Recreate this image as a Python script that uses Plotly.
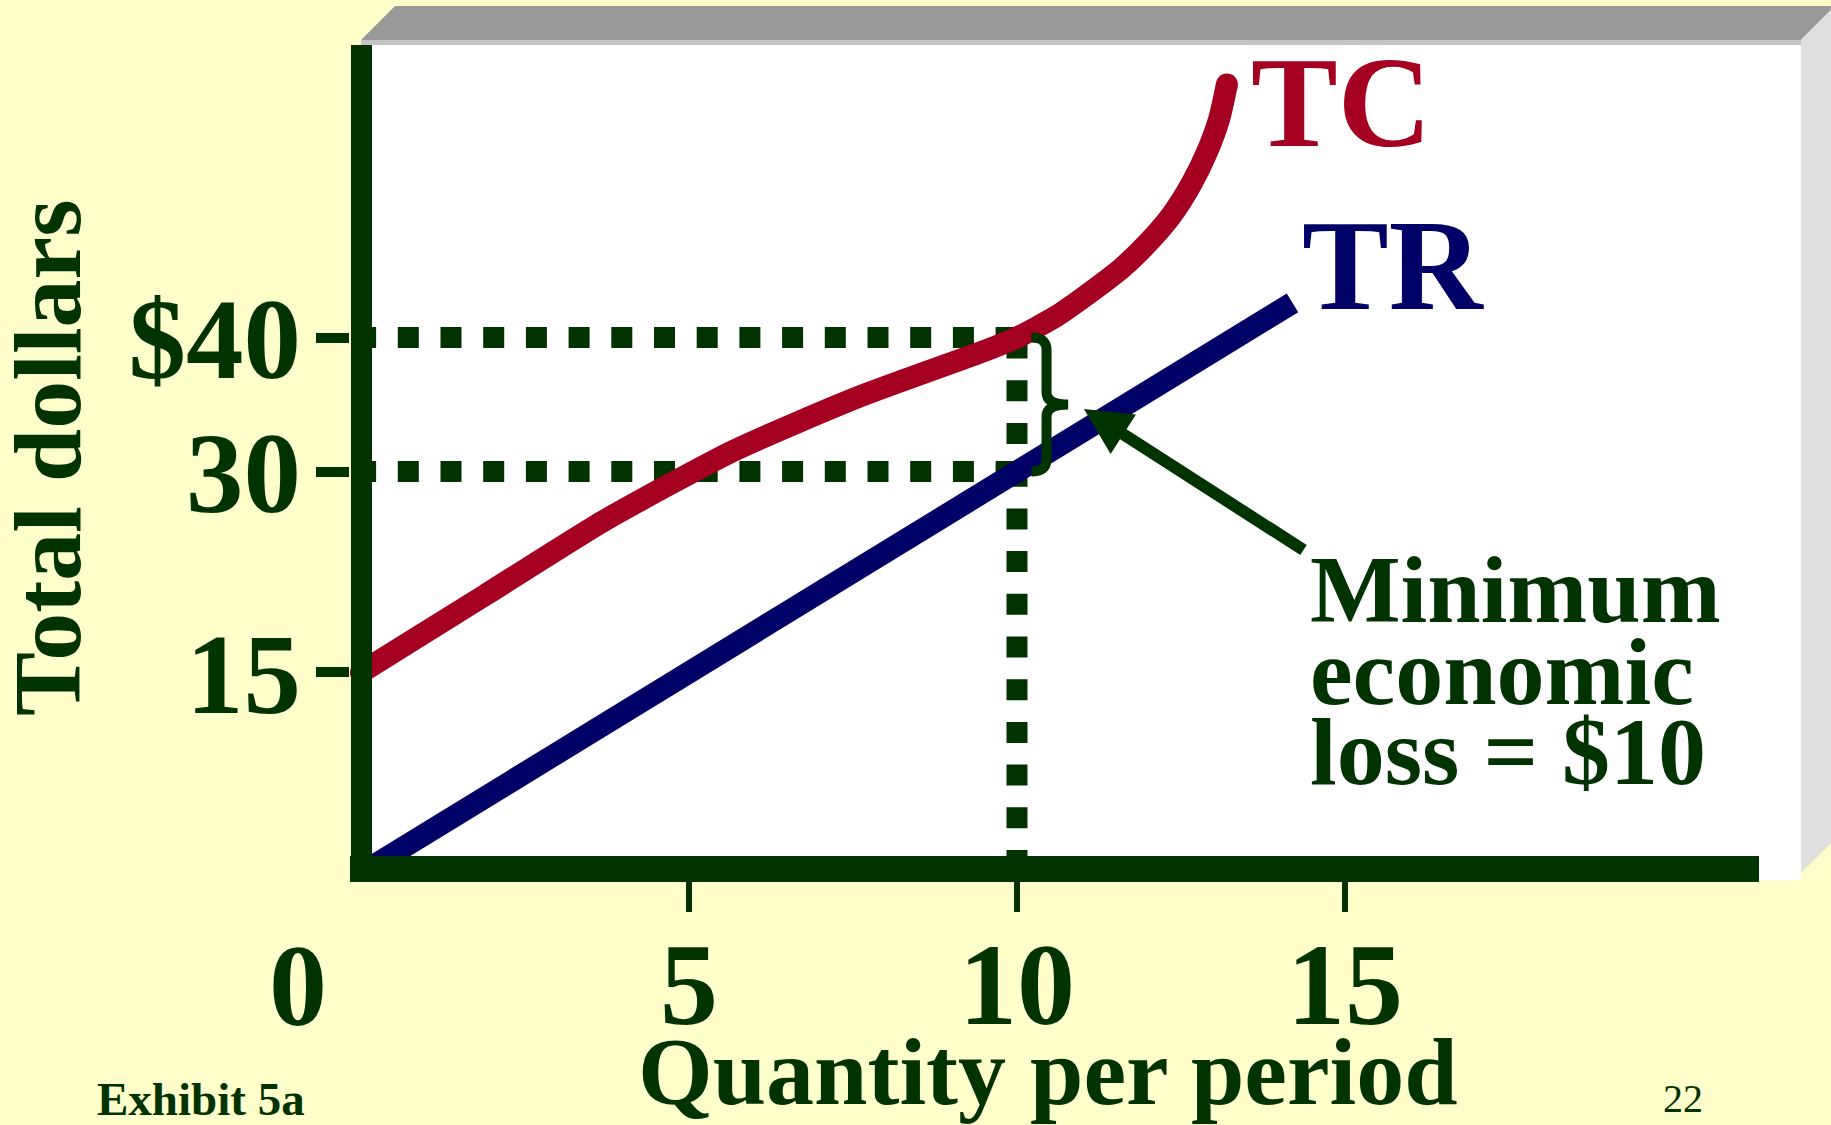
import plotly.graph_objects as go

# ---------------- data ----------------
quantity_tc = [0, 1.9, 3.73, 5.7, 7.6, 9.5, 10.0, 10.6, 11.15, 11.6, 12.0, 12.35, 12.65, 12.9, 13.08, 13.2]
total_cost = [15, 20.8, 26.4, 31.6, 35.6, 39.0, 40.0, 41.6, 43.5, 45.2, 47.1, 49.1, 51.4, 53.9, 56.3, 58.9]

quantity_tr = [0, 14.2]
total_revenue = [0, 42.6]

loss_quantity = 10
loss_tc = 40
loss_tr = 30

x_tick_values = [5, 10, 15]
x_tick_labels = ["5", "10", "15"]
y_tick_values = [15, 30, 40]
y_tick_labels = ["15", "30", "$40"]

# ---------------- styling ----------------
W, H = 1831, 1125
PL, PR, PT, PB = 350, 1759, 45, 880          # plot-area pixel bounds
X_RANGE = [-0.1677, 21.311]
Y_RANGE = [-0.5003, 61.85]

GREEN = "#003300"
RED = "#A50021"
NAVY = "#000066"
YELLOW = "#FFFFCC"
SERIF = "Liberation Serif, Times New Roman, serif"


def px(x):
    return (x - PL) / (PR - PL)


def py(y):
    return (PB - y) / (PB - PT)


def poly(points):
    return "M " + " L ".join(f"{px(a):.5f},{py(b):.5f}" for a, b in points) + " Z"


fig = go.Figure()

dot_style = dict(color=GREEN, width=21, dash="21px,21.7px")
fig.add_trace(go.Scatter(x=[-0.09, loss_quantity], y=[loss_tc, loss_tc], mode="lines",
                         line=dot_style, hoverinfo="skip"))
fig.add_trace(go.Scatter(x=[-0.09, loss_quantity], y=[loss_tr, loss_tr], mode="lines",
                         line=dot_style, hoverinfo="skip"))
fig.add_trace(go.Scatter(x=[loss_quantity, loss_quantity], y=[loss_tc, 0], mode="lines",
                         line=dot_style, hoverinfo="skip"))

# total revenue
fig.add_trace(go.Scatter(x=quantity_tr, y=total_revenue, mode="lines",
                         line=dict(color=NAVY, width=22), name="TR"))

# total cost, rounded ends
cap_sizes = [22] + [0] * (len(quantity_tc) - 2) + [22]
fig.add_trace(go.Scatter(x=quantity_tc, y=total_cost, mode="lines+markers",
                         line=dict(color=RED, width=22, shape="spline", smoothing=0.6),
                         marker=dict(size=cap_sizes, color=RED, opacity=1, line=dict(width=0)),
                         name="TC"))

shapes = [
    # 3-D panel behind the chart
    dict(type="path", xref="paper", yref="paper", layer="below", line=dict(width=0),
         fillcolor="#999999",
         path=poly([(361, 40), (395, 6), (1831, 6), (1831, 10), (1801, 40)])),
    dict(type="path", xref="paper", yref="paper", layer="below", line=dict(width=0),
         fillcolor="#DFDFDF",
         path=poly([(1801, 40), (1831, 10), (1831, 843), (1801, 873)])),
    dict(type="rect", xref="paper", yref="paper", layer="below", line=dict(width=0),
         fillcolor="#C4C4C4", x0=px(361), x1=px(1801), y0=py(40), y1=py(45)),
    dict(type="rect", xref="paper", yref="paper", layer="below", line=dict(width=0),
         fillcolor="#FFFFFF", x0=px(361), x1=px(1801), y0=py(45), y1=py(880)),
    # heavy axis lines
    dict(type="rect", xref="paper", yref="paper", layer="above", line=dict(width=0),
         fillcolor=GREEN, x0=px(351), x1=px(372), y0=py(45), y1=py(882)),
    dict(type="rect", xref="paper", yref="paper", layer="above", line=dict(width=0),
         fillcolor=GREEN, x0=px(350), x1=px(1759), y0=py(856), y1=py(882)),
]

# brace spanning the loss between TR and TC
mid = (loss_tc + loss_tr) / 2
bx0, bx1, bx2, r = loss_quantity + 0.22, loss_quantity + 0.45, loss_quantity + 0.78, 0.9
brace = (f"M {bx0},{loss_tc} Q {bx1},{loss_tc} {bx1},{loss_tc - r} "
         f"L {bx1},{mid + r} Q {bx1},{mid} {bx2},{mid} "
         f"Q {bx1},{mid} {bx1},{mid - r} L {bx1},{loss_tr + r} "
         f"Q {bx1},{loss_tr} {bx0},{loss_tr}")
shapes.append(dict(type="path", xref="x", yref="y", layer="above",
                   line=dict(color=GREEN, width=10), path=brace))


def label(text, x, y, size, color=GREEN, xanchor="center", weight="bold", angle=0):
    return dict(text=text, x=px(x), y=py(y), xref="paper", yref="paper",
                xanchor=xanchor, yanchor="middle", showarrow=False, textangle=angle,
                font=dict(family=SERIF, size=size, color=color, weight=weight))


annotations = [
    label("TC", 1341, 102, 130, RED),
    label("TR", 1393, 265, 130, NAVY),
    label("Minimum", 1308, 590, 96, xanchor="left"),
    label("economic", 1308, 671, 96, xanchor="left"),
    label("loss = $10", 1308, 751, 96, xanchor="left"),
    label("Quantity per period", 1048, 1071, 96),
    label("Total dollars", 47, 458, 96, angle=-90),
    label("0", 298, 986, 116),
    label("Exhibit 5a", 201, 1099, 47),
    label("22", 1683, 1098, 40, weight="normal"),
    # arrow pointing at the gap between TC and TR
    dict(text="", x=11.02, y=34.67, xref="x", yref="y",
         ax=14.39, ay=24.07, axref="x", ayref="y",
         showarrow=True, arrowhead=2, arrowsize=0.78, arrowwidth=12,
         arrowcolor=GREEN, standoff=0),
]

fig.update_layout(
    width=W, height=H,
    margin=dict(l=PL, r=W - PR, t=PT, b=H - PB, pad=0),
    paper_bgcolor=YELLOW,
    plot_bgcolor="rgba(0,0,0,0)",
    showlegend=False,
    shapes=shapes,
    annotations=annotations,
    xaxis=dict(range=X_RANGE, tickvals=x_tick_values, ticktext=x_tick_labels,
               ticks="outside", ticklen=31, tickwidth=6, tickcolor=GREEN,
               showgrid=False, zeroline=False, showline=False, fixedrange=True,
               ticklabelstandoff=-27,
               tickfont=dict(family=SERIF, size=116, color=GREEN, weight="bold")),
    yaxis=dict(range=Y_RANGE, tickvals=y_tick_values, ticktext=y_tick_labels,
               ticks="outside", ticklen=33, tickwidth=10, tickcolor=GREEN,
               showgrid=False, zeroline=False, showline=False, fixedrange=True,
               ticklabelstandoff=-8,
               tickfont=dict(family=SERIF, size=115, color=GREEN, weight="bold")),
)

fig.write_html("out.html")
